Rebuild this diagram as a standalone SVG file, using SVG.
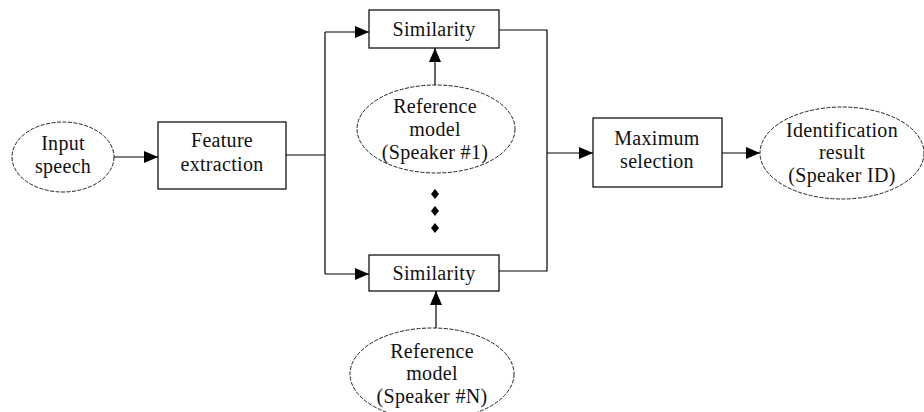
<svg xmlns="http://www.w3.org/2000/svg" width="924" height="412" viewBox="0 0 924 412">
<style>
.box{fill:#fff;stroke:#000;stroke-width:1.2}
.ell{fill:#fff;stroke:#222;stroke-width:1;stroke-dasharray:4 1.5}
.t{font-family:'Liberation Serif','DejaVu Serif',serif;font-size:20px;fill:#111;text-anchor:middle;letter-spacing:0.3px}
.ln{fill:none;stroke:#000;stroke-width:1.2}
.arr{fill:none;stroke:#000;stroke-width:1.2;marker-end:url(#ah)}
</style>
<defs>
<marker id="ah" viewBox="0 0 14 12" refX="14" refY="6" markerWidth="14" markerHeight="12" markerUnits="userSpaceOnUse" orient="auto">
<path d="M0,0 L14,6 L0,12 z" fill="#000"/>
</marker>
</defs>
<rect width="924" height="412" fill="#fff"/>
<g id="connectors">
<line class="arr" x1="114" y1="157" x2="158" y2="157"/>
<polyline class="ln" points="286,155 325,155"/>
<line class="ln" x1="325" y1="32" x2="325" y2="274"/>
<line class="arr" x1="325" y1="32" x2="369" y2="32"/>
<line class="arr" x1="325" y1="274" x2="369" y2="274"/>
<line class="arr" x1="435" y1="85" x2="435" y2="48"/>
<line class="arr" x1="436" y1="328" x2="436" y2="291"/>
<polyline class="ln" points="499,30 547,30 547,271 499,271"/>
<line class="arr" x1="547" y1="153" x2="593" y2="153"/>
<line class="arr" x1="722" y1="153" x2="760" y2="153"/>
</g>
<g id="dots" fill="#000">
<path d="M435,189 L439,194 L435,199 L431,194 z"/>
<path d="M435,206 L439,211 L435,216 L431,211 z"/>
<path d="M435,223 L439,228 L435,233 L431,228 z"/>
</g>
<g id="input">
<ellipse class="ell" cx="63" cy="157" rx="51" ry="35"/>
<text class="t" x="63" y="150">Input</text>
<text class="t" x="63" y="173">speech</text>
</g>
<g id="feature">
<rect class="box" x="158" y="122" width="128" height="67"/>
<text class="t" x="222" y="147">Feature</text>
<text class="t" x="222" y="171">extraction</text>
</g>
<g id="sim1">
<rect class="box" x="369" y="10" width="130" height="38"/>
<text class="t" x="434" y="36">Similarity</text>
</g>
<g id="ref1">
<ellipse class="ell" cx="436" cy="129" rx="79" ry="44"/>
<text class="t" x="435" y="113">Reference</text>
<text class="t" x="435" y="136">model</text>
<text class="t" x="435" y="159">(Speaker #1)</text>
</g>
<g id="simN">
<rect class="box" x="369" y="255" width="130" height="36"/>
<text class="t" x="434" y="280">Similarity</text>
</g>
<g id="refN">
<ellipse class="ell" cx="432" cy="374" rx="82" ry="46"/>
<text class="t" x="432" y="358">Reference</text>
<text class="t" x="432" y="380">model</text>
<text class="t" x="432" y="403">(Speaker #N)</text>
</g>
<g id="max">
<rect class="box" x="593" y="118" width="129" height="69"/>
<text class="t" x="657" y="145">Maximum</text>
<text class="t" x="657" y="168">selection</text>
</g>
<g id="ident">
<ellipse class="ell" cx="842" cy="153" rx="82" ry="46"/>
<text class="t" x="842" y="137">Identification</text>
<text class="t" x="842" y="159">result</text>
<text class="t" x="842" y="182">(Speaker ID)</text>
</g>
</svg>
